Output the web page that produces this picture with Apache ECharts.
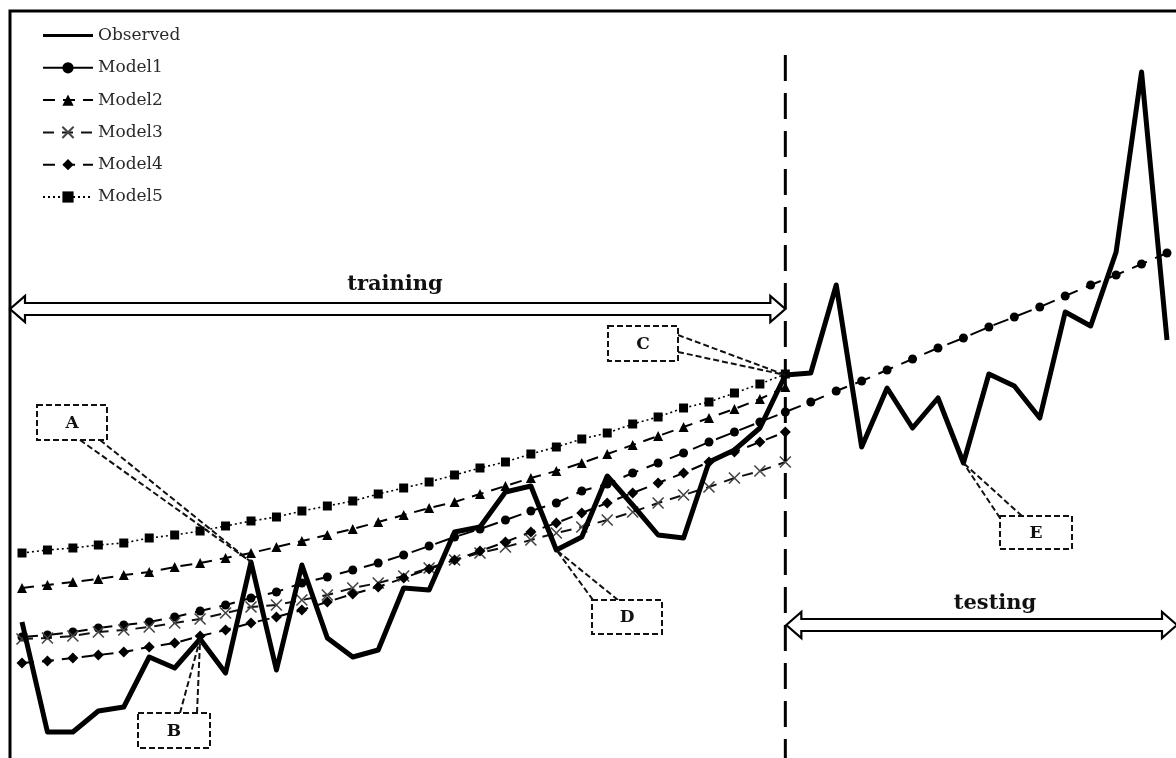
<!DOCTYPE html>
<html><head><meta charset="utf-8">
<script src="https://cdn.jsdelivr.net/npm/echarts@6/dist/echarts.min.js"></script>
<style>html,body{margin:0;padding:0;background:#fff}#c{width:1176px;height:758px}</style>
</head><body><div id="c"></div>
<script>
// time steps (46), training = first 31, testing = rest
const steps = ['1','2','3','4','5','6','7','8','9','10','11','12','13','14','15','16','17','18','19','20','21','22','23','24','25','26','27','28','29','30','31','32','33','34','35','36','37','38','39','40','41','42','43','44','45','46'];
const observed = [136,26,26,47,51,101,90,119,85,196,88,193,120,101,108,170,168,226,231,266,272,208,221,282,253,223,220,296,308,330,383,385,473,311,370,330,360,295,384,372,340,446,432,506,686,418];
const model1 = [121,123,126,130,133,136,141,147,153,160,166,175,181,188,195,203,212,221,229,238,247,255,267,274,285,295,305,316,326,336,346,356,367,377,388,399,410,420,431,441,451,462,473,483,494,505];
const model2 = [170,173,176,179,183,186,191,195,200,205,211,217,223,229,236,243,250,256,264,272,280,287,295,304,313,322,331,340,349,359,371];
const model3 = [119,120,122,126,128,131,135,139,145,151,153,158,163,170,175,182,190,198,205,211,218,225,231,238,246,255,263,271,280,287,296];
const model4 = [95,97,100,103,106,111,115,122,128,135,141,148,156,164,171,180,189,198,207,216,226,235,245,255,265,275,285,296,306,316,326];
const model5 = [205,208,210,213,215,220,223,227,232,237,241,247,252,257,264,270,276,283,290,296,304,311,319,325,334,341,350,356,365,374,384];
const seriesNames = ['Observed','Model1','Model2','Model3','Model4','Model5'];
const splitIndex = 30;          // last training step index
const callouts = [              // label, observed index pointed at
  {label:'A', idx:9},
  {label:'B', idx:7},
  {label:'C', idx:30},
  {label:'D', idx:21},
  {label:'E', idx:37}
];
const phaseLabels = ['training','testing'];

const FONT = 'DejaVu Serif';
const chart = echarts.init(document.getElementById('c'));
const xPath = 'path://M0,0L10,10M10,0L0,10';

chart.setOption({
  animation:false,
  backgroundColor:'#fff',
  grid:{left:22,right:9,top:0,bottom:0},
  xAxis:{type:'category',data:steps,boundaryGap:false,show:false},
  yAxis:{type:'value',min:0,max:758,show:false},
  legend:{
    orient:'vertical',left:42,top:27,padding:0,itemWidth:50,itemHeight:14,itemGap:15.3,
    textStyle:{fontFamily:FONT,fontSize:17,color:'#2a2a2a'},
    data:[
      {name:'Observed',icon:'path://M0,0L50,0L50,3.2L0,3.2Z'},
      {name:'Model1',lineStyle:{type:'solid',width:2}},
      {name:'Model2'},
      {name:'Model3'},
      {name:'Model4'},
      {name:'Model5'}
    ]
  },
  series:[
    {name:seriesNames[1],type:'line',data:model1,symbol:'circle',symbolSize:9,z:3,
      itemStyle:{color:'#000'},lineStyle:{color:'#000',width:2,type:[16,9]}},
    {name:seriesNames[2],type:'line',data:model2,symbol:'triangle',symbolSize:10,z:3,
      itemStyle:{color:'#000'},lineStyle:{color:'#000',width:2,type:[12,8]}},
    {name:seriesNames[3],type:'line',data:model3,symbol:xPath,symbolSize:11,z:3,
      itemStyle:{color:'transparent',borderColor:'#444',borderWidth:1.6},lineStyle:{color:'#111',width:2,type:[11,8]}},
    {name:seriesNames[4],type:'line',data:model4,symbol:'diamond',symbolSize:11,z:3,
      itemStyle:{color:'#000'},lineStyle:{color:'#000',width:2,type:[12,8]}},
    {name:seriesNames[5],type:'line',data:model5,symbol:'rect',symbolSize:9,z:3,
      itemStyle:{color:'#000'},lineStyle:{color:'#000',width:1.6,type:[2,3]}},
    {name:seriesNames[0],type:'line',data:observed,symbol:'none',z:5,
      itemStyle:{color:'#000'},lineStyle:{color:'#000',width:5,join:'round'}}
  ]
});

function px(i){ return chart.convertToPixel({gridIndex:0},[i, observed[i]]); }
const splitX = chart.convertToPixel({xAxisIndex:0}, splitIndex);

function hollowArrow(x1,x2,yc){
  const h=6, w=15, head=13;
  return {type:'polygon',z:10,shape:{points:[
    [x1,yc],[x1+w,yc-head],[x1+w,yc-h],[x2-w,yc-h],[x2-w,yc-head],[x2,yc],
    [x2-w,yc+head],[x2-w,yc+h],[x1+w,yc+h],[x1+w,yc+head]]},
    style:{fill:'#fff',stroke:'#000',lineWidth:2.2}};
}
const boxes = {
  A:{x:37,y:405,w:70,h:35, from:[[80,440],[100,440]]},
  B:{x:138,y:713,w:72,h:35, from:[[180,713],[197,713]]},
  C:{x:608,y:326,w:70,h:35, from:[[678,335],[678,352]]},
  D:{x:592,y:600,w:70,h:34, from:[[593,600],[618,600]]},
  E:{x:1000,y:516,w:72,h:33, from:[[1000,518],[1022,516]]}
};
const g = [];
g.push({type:'rect',z:20,shape:{x:10,y:11,width:1200,height:800},style:{fill:null,stroke:'#000',lineWidth:3}});
g.push({type:'line',z:9,shape:{x1:splitX,y1:55,x2:splitX,y2:760},style:{stroke:'#000',lineWidth:3,lineDash:[26,12]}});
g.push(hollowArrow(10,splitX,309));
g.push(hollowArrow(splitX+1,1177,625));
g.push({type:'text',z:11,style:{text:phaseLabels[0],x:395,y:285,align:'center',verticalAlign:'middle',font:'bold 21px "DejaVu Serif"',fill:'#111'}});
g.push({type:'text',z:11,style:{text:phaseLabels[1],x:995,y:604,align:'center',verticalAlign:'middle',font:'bold 21px "DejaVu Serif"',fill:'#111'}});
callouts.forEach(c=>{
  const b = boxes[c.label]; const t = px(c.idx);
  g.push({type:'rect',z:12,shape:{x:b.x,y:b.y,width:b.w,height:b.h},style:{fill:'#fff',stroke:'#111',lineWidth:2,lineDash:[6,3]}});
  b.from.forEach(f=>{
    g.push({type:'line',z:11,shape:{x1:f[0],y1:f[1],x2:t[0],y2:t[1]},style:{stroke:'#111',lineWidth:2,lineDash:[6,3]}});
  });
  g.push({type:'text',z:13,style:{text:c.label,x:b.x+b.w/2,y:b.y+b.h/2+1,align:'center',verticalAlign:'middle',font:'bold 17px "DejaVu Serif"',fill:'#111'}});
});
chart.setOption({graphic:g});
</script></body></html>
